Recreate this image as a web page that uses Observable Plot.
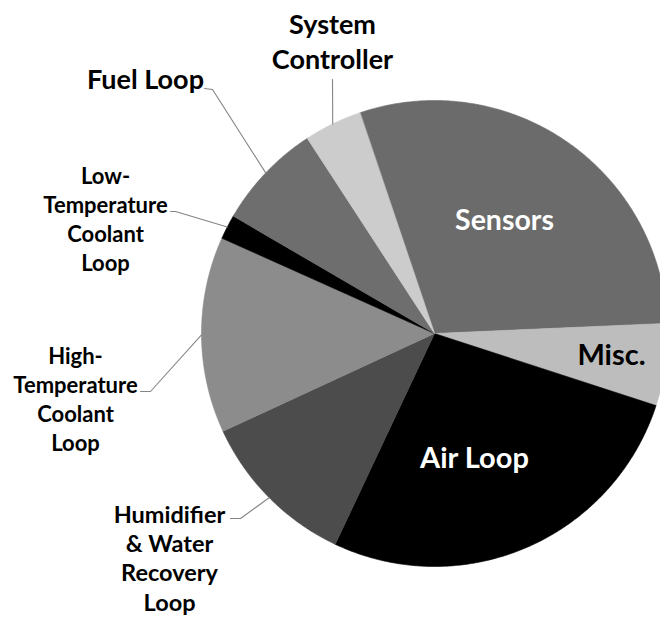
<!DOCTYPE html>
<html><head><meta charset="utf-8">
<script src="https://cdn.jsdelivr.net/npm/d3@7"></script>
<script src="https://cdn.jsdelivr.net/npm/@observablehq/plot@0.6"></script>
<style>html,body{margin:0;padding:0;background:#fff;overflow:hidden}</style>
</head><body><div id="chart"></div>
<script>
// ---- data ----
const categories = ["Sensors", "Misc.", "Air Loop", "Humidifier & Water Recovery Loop",
  "High-Temperature Coolant Loop", "Low-Temperature Coolant Loop", "Fuel Loop", "System Controller"];
const values = [29.5, 5.7, 27.0, 11.1, 13.6, 1.7, 7.4, 4.0];
const labelTexts = ["Sensors", "Misc.", "Air Loop", "Humidifier\n& Water\nRecovery\nLoop",
  "High-\nTemperature\nCoolant\nLoop", "Low-\nTemperature\nCoolant\nLoop", "Fuel Loop", "System\nController"];

// ---- style / layout ----
const palette = ["#6b6b6b", "#bdbdbd", "#000000", "#4c4c4c", "#8c8c8c", "#000000", "#6e6e6e", "#cccccc"];
const W = 660, H = 618, CX = 434, CY = 333, R = 233, START = -18.7;
// label layout in pixels: centre x, baseline of last line, font size, line spacing (px), colour, leader elbow points
const labelLayout = [
  {x: 504, base: 229, size: 28.5, gap: 0, color: "#fff"},
  {x: 611, base: 364, size: 29, gap: 0, color: "#000"},
  {x: 474, base: 467, size: 29, gap: 0, color: "#fff"},
  {x: 169, base: 610, size: 23.5, gap: 29.3, color: "#000", leader: [[230, 518], [240, 518]]},
  {x: 75, base: 450, size: 22, gap: 29, color: "#000", leader: [[140, 391], [150, 391]]},
  {x: 105, base: 270, size: 22, gap: 29, color: "#000", leader: [[170, 211], [175, 211]]},
  {x: 145, base: 88, size: 27, gap: 0, color: "#000", leader: [[204, 88], [212, 89]]},
  {x: 332, base: 68, size: 27, gap: 35, color: "#000", leader: [[332, 79]]}
];

// ---- geometry ----
const total = d3.sum(values);
const toX = px => px - CX, toY = py => CY - py;
const slices = [];
let acc = START;
values.forEach((v, i) => {
  const a0 = acc, a1 = acc + v / total * 360; acc = a1;
  slices.push({name: categories[i], a0, a1, mid: (a0 + a1) / 2});
});
const pt = (deg, r) => [r * Math.sin(deg * Math.PI / 180), r * Math.cos(deg * Math.PI / 180)];
const sliceRows = [];
slices.forEach(s => {
  sliceRows.push({name: s.name, x: 0, y: 0});
  const n = Math.max(2, Math.ceil((s.a1 - s.a0) / 0.5));
  for (let k = 0; k <= n; k++) {
    const [x, y] = pt(s.a0 + (s.a1 - s.a0) * k / n, R);
    sliceRows.push({name: s.name, x, y});
  }
});
const leaderRows = [];
labelLayout.forEach((L, i) => {
  if (!L.leader) return;
  L.leader.forEach(([px, py]) => leaderRows.push({name: categories[i], x: toX(px), y: toY(py)}));
  const [ex, ey] = pt(slices[i].mid, R);
  leaderRows.push({name: categories[i], x: ex, y: ey});
});

const textMarks = labelLayout.map((L, i) => Plot.text([{t: labelTexts[i], x: toX(L.x), y: toY(L.base)}], {
  x: "x", y: "y", text: "t", fill: L.color, fontSize: L.size, fontWeight: "bold",
  textAnchor: "middle", lineAnchor: "bottom", lineHeight: L.gap ? L.gap / L.size : 1
}));

const chart = Plot.plot({
  width: W, height: H, margin: 0,
  x: {domain: [-CX, W - CX], axis: null},
  y: {domain: [CY - H, CY], axis: null},
  color: {domain: categories, range: palette},
  style: {fontFamily: "Lato, 'Open Sans', sans-serif", background: "white"},
  marks: [
    Plot.line(sliceRows, {x: "x", y: "y", z: "name", fill: "name", stroke: "name", strokeWidth: 0.6, curve: "linear-closed"}),
    Plot.line(leaderRows, {x: "x", y: "y", z: "name", stroke: "#858585", strokeWidth: 1.1}),
    ...textMarks
  ]
});
document.getElementById("chart").appendChild(chart);
</script>
</body></html>
